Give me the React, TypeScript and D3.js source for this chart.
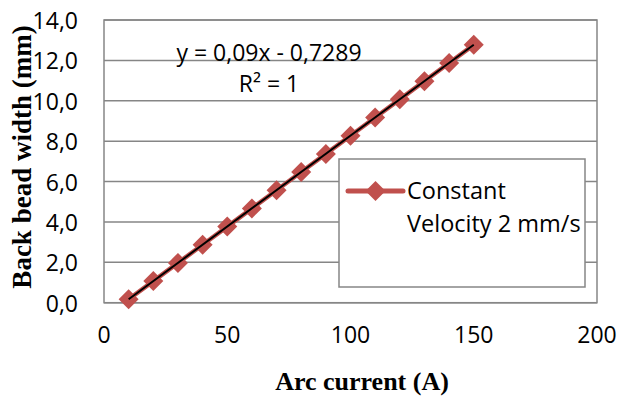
import React from "react";
import * as d3 from "d3";

const currents = [10, 20, 30, 40, 50, 60, 70, 80, 90, 100, 110, 120, 130, 140, 150];
const widths = [0.17, 1.07, 1.97, 2.87, 3.77, 4.67, 5.57, 6.47, 7.37, 8.27, 9.17, 10.07, 10.97, 11.87, 12.77];
const xTicks = [0, 50, 100, 150, 200];
const yTicks = [0, 2, 4, 6, 8, 10, 12, 14];
const seriesName = ["Constant", "Velocity 2 mm/s"];
const equationText = "y = 0,09x - 0,7289";
const r2Text = "R² = 1";
const slope = 0.09;
const intercept = -0.7289;

const W = 619, H = 399;
const left = 104, right = 597, top = 20, bottom = 302.7;
const RED = "#C0504D";
const GRID = "#868686";
const LABEL_FONT = "'Open Sans', sans-serif";
const TITLE_FONT = "'Liberation Serif', 'Times New Roman', serif";

export default function App() {
  const x = d3.scaleLinear().domain([0, 200]).range([left, right]);
  const y = d3.scaleLinear().domain([0, 14]).range([bottom, top]);
  const pts = currents.map((c, i) => [c, widths[i]] as [number, number]);
  const line = d3.line<[number, number]>().x(d => x(d[0])).y(d => y(d[1]));
  const diamond = d3.symbol().type(d3.symbolSquare).size(200)();
  const fmtY = (v: number) => v.toFixed(1).replace(".", ",");
  const trendX = d3.extent(currents) as [number, number];
  const trend: [number, number][] = trendX.map(v => [v, slope * v + intercept]);

  const legX = 339, legY = 159, legW = 246, legH = 128;

  return (
    <svg width={W} height={H} style={{ position: "absolute", left: 0, top: 0, background: "#fff" }}>
      <rect x={0} y={0} width={W} height={H} fill="#fff" />
      {yTicks.map(t => (
        <line key={"g" + t} x1={left} x2={right} y1={y(t)} y2={y(t)} stroke={GRID} strokeWidth={1.5} />
      ))}
      <rect x={left} y={top} width={right - left} height={bottom - top} fill="none" stroke={GRID} strokeWidth={1.5} />
      {yTicks.map(t => (
        <text key={"yl" + t} x={78} y={y(t)} textAnchor="end" dominantBaseline="central"
          fontFamily={LABEL_FONT} fontSize={23} fill="#000">{fmtY(t)}</text>
      ))}
      {xTicks.map(t => (
        <text key={"xl" + t} x={x(t)} y={343} textAnchor="middle"
          fontFamily={LABEL_FONT} fontSize={23} fill="#000">{t}</text>
      ))}
      <path d={line(pts) || ""} fill="none" stroke={RED} strokeWidth={4.5} />
      {pts.map((p, i) => (
        <path key={"m" + i} d={diamond} transform={`translate(${x(p[0])},${y(p[1])}) rotate(45)`} fill={RED} />
      ))}
      <path d={line(trend) || ""} fill="none" stroke="#000" strokeWidth={2} />
      <text x={269} y={61} textAnchor="middle" fontFamily={LABEL_FONT} fontSize={23} fill="#000">{equationText}</text>
      <text x={269} y={92} textAnchor="middle" fontFamily={LABEL_FONT} fontSize={23} fill="#000">{r2Text}</text>
      <g>
        <rect x={legX} y={legY} width={legW} height={legH} fill="#fff" stroke={GRID} strokeWidth={1.5} />
        <line x1={348} x2={403} y1={191} y2={191} stroke={RED} strokeWidth={5} strokeLinecap="round" />
        <path d={diamond} transform={`translate(375.5,191) rotate(45)`} fill={RED} />
        <text x={407} y={199} fontFamily={LABEL_FONT} fontSize={23.5} fill="#000">{seriesName[0]}</text>
        <text x={407} y={232} fontFamily={LABEL_FONT} fontSize={23.5} fill="#000">{seriesName[1]}</text>
      </g>
      <text x={362} y={390} textAnchor="middle" fontFamily={TITLE_FONT} fontWeight="bold" fontSize={26} fill="#000">Arc current (A)</text>
      <text transform={`translate(31,157) rotate(-90)`} textAnchor="middle" fontFamily={TITLE_FONT} fontWeight="bold" fontSize={27} fill="#000">Back bead width (mm)</text>
    </svg>
  );
}
